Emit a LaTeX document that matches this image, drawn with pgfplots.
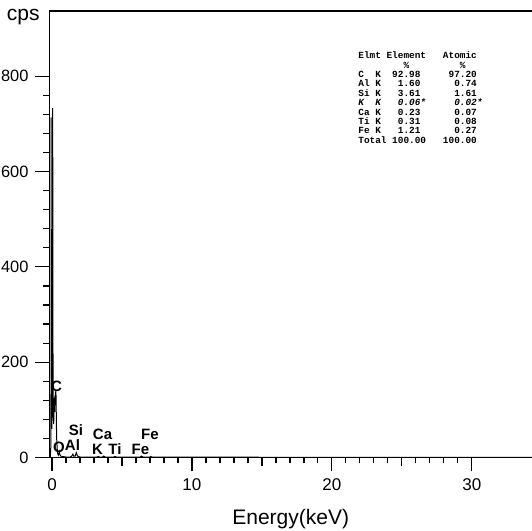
\documentclass[border=0pt]{standalone}
\usepackage{fontspec}
\setmainfont{Liberation Sans}
\setmonofont{Liberation Mono}
\usepackage{pgfplots}
\pgfplotsset{compat=1.18}
\begin{document}
\begin{tikzpicture}
\begin{axis}[
  at={(0,0)}, anchor=south west,
  scale only axis, width=241.25pt, height=223.25pt,
  xmin=-0.18, xmax=34.3, ymin=0, ymax=937,
  axis x line*=bottom, axis y line*=left,
  axis line style={line width=0.6pt},
  xtick align=outside, ytick align=outside,
  xtick={0,10,20,30},
  extra x ticks={5,15,25}, extra x tick labels={},
  extra x tick style={major tick length=4.5pt},
  ytick={0,200,400,600,800},
  minor x tick num=9,
  minor y tick num=4,
  major tick length=7pt, minor tick length=3pt,
  every tick/.style={black, line width=0.6pt},
  every minor tick/.style={black, line width=0.6pt},
  minor x tick style={black, line width=0.6pt},
  xticklabel style={font=\fontsize{8.5}{10}\selectfont},
  yticklabel style={font=\fontsize{8.2}{10}\selectfont},
  /pgf/number format/assume math mode=true,
  xlabel={Energy(keV)},
  xlabel style={font=\fontsize{10.5}{12}\selectfont, at={(rel axis cs:0.5,0)}, anchor=center, yshift=-30.75pt},
  clip=false,
]
\addplot[black, line width=0.5pt] coordinates {
(-0.18,0) (-0.12,2) (-0.09,20) (-0.07,150) (-0.06,714) (-0.05,260) (-0.03,120) (-0.01,60)
(0.01,100) (0.03,250) (0.05,733) (0.06,300) (0.08,140) (0.10,90) (0.12,70) (0.14,100)
(0.16,125) (0.18,95) (0.20,130) (0.22,110) (0.24,138) (0.26,120) (0.28,140) (0.30,100)
(0.32,60) (0.34,35) (0.37,18) (0.40,9) (0.45,5) (0.50,9) (0.53,12) (0.56,6) (0.62,3)
(0.75,2) (1.0,1) (1.3,1) (1.42,3) (1.49,7) (1.55,3) (1.66,3) (1.74,10) (1.82,3) (2.0,1)
(2.5,1) (3.2,1) (3.31,2) (3.4,1) (3.6,1) (3.69,3) (3.8,1) (4.4,1) (4.51,2) (4.6,1)
(6.3,1) (6.40,3) (6.5,1) (7.0,1) (7.06,2) (7.15,1) (10,1) (15,0.5) (20,0.5) (25,0.5)
(30,0.5) (34.3,0.5)
};
\draw[line width=0.6pt] (rel axis cs:0,1) -- (rel axis cs:1,1);
\begin{scope}[every node/.style={font=\fontsize{7.5}{8}\selectfont\bfseries, inner sep=0pt}]
\node at (axis cs:0.32,150) {C};
\node at (axis cs:0.5,22) {O};
\node at (axis cs:1.46,26) {Al};
\node at (axis cs:1.71,58) {Si};
\node at (axis cs:3.61,49) {Ca};
\node at (axis cs:3.25,18) {K};
\node at (axis cs:4.5,18) {Ti};
\node at (axis cs:7.0,49) {Fe};
\node at (axis cs:6.32,18) {Fe};
\end{scope}
\node[anchor=east, font=\fontsize{10.5}{12}\selectfont, inner sep=0pt] at ([xshift=-4.75pt,yshift=-3pt]rel axis cs:0,1) {cps};
\end{axis}
\node[anchor=north west, inner sep=0pt, align=left,
      font=\fontsize{4.7}{4.7}\selectfont\ttfamily\bfseries] at (154.25pt,203pt) {%
Elmt~Element~~~Atomic\\
~~~~~~~~\%~~~~~~~~~\%\\
C~~K~~92.98~~~~~97.20\\
Al~K~~~1.60~~~~~~0.74\\
Si~K~~~3.61~~~~~~1.61\\
{\itshape K~~K~~~0.06*~~~~~0.02*}\\
Ca~K~~~0.23~~~~~~0.07\\
Ti~K~~~0.31~~~~~~0.08\\
Fe~K~~~1.21~~~~~~0.27\\
Total~100.00~~~100.00};
\pgfresetboundingbox
\path[use as bounding box] (-24.75pt,-36.75pt) rectangle (241.25pt,228.75pt);
\end{tikzpicture}
\end{document}
